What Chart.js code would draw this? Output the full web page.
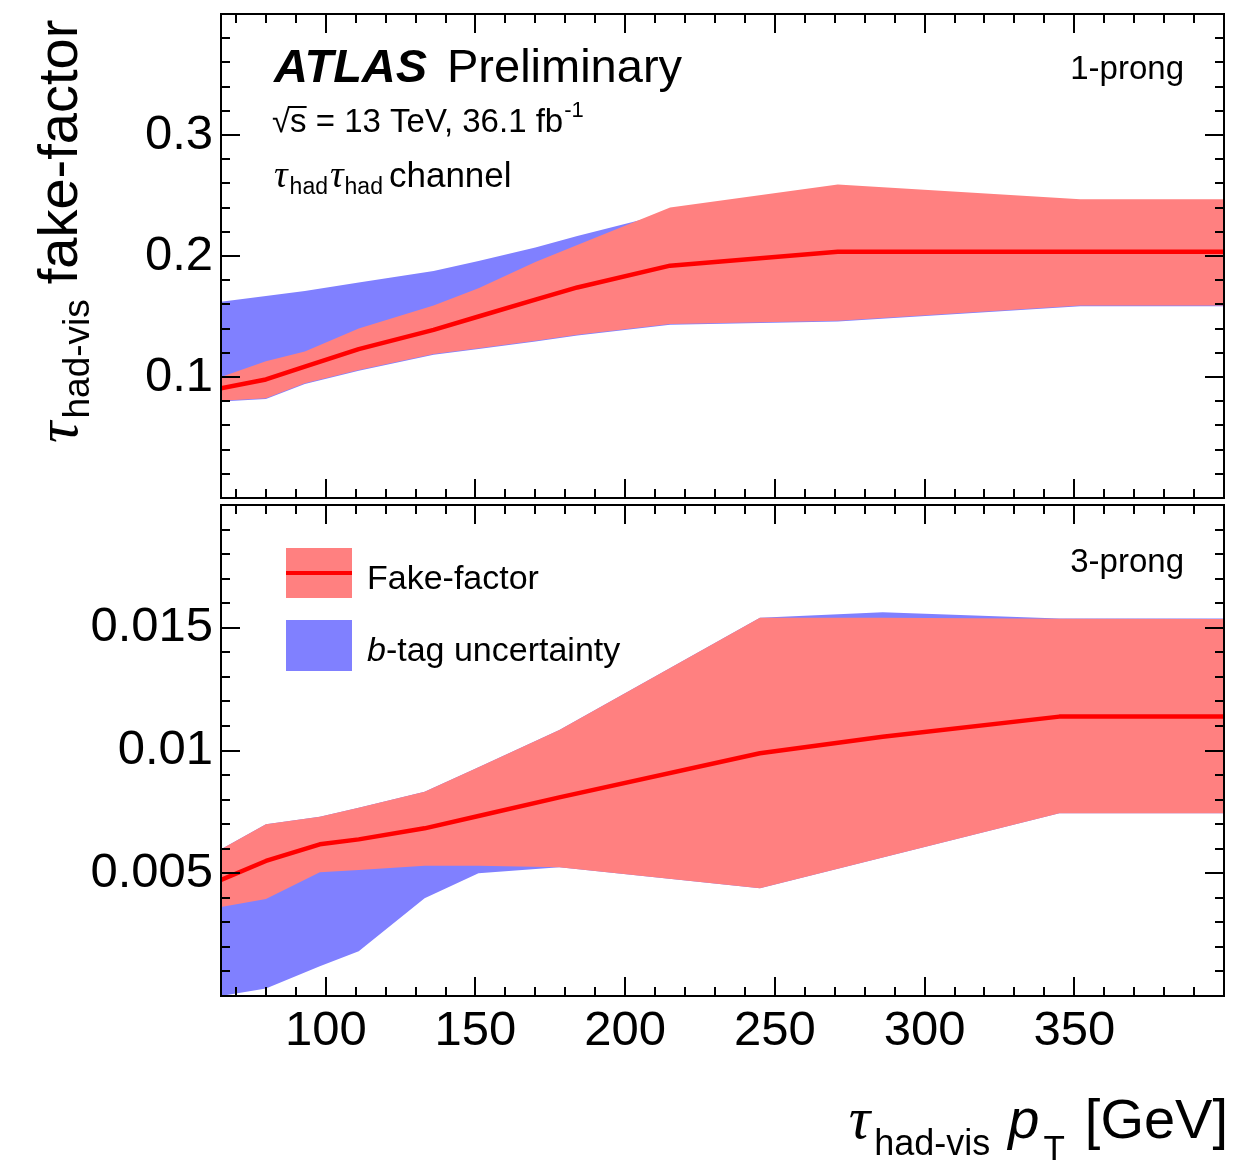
<!DOCTYPE html>
<html>
<head>
<meta charset="utf-8">
<script src="https://cdn.jsdelivr.net/npm/chart.js@4.4.1/dist/chart.umd.min.js"></script>
<style>
  body { margin: 0; background: #fff; }
  #wrap { position: relative; width: 1236px; height: 1162px; }
  canvas { position: absolute; left: 0; }
  #top { top: 0; }
  #bot { top: 500px; }
</style>
</head>
<body>
<div id="wrap">
  <canvas id="top" width="1236" height="505"></canvas>
  <canvas id="bot" width="1236" height="662"></canvas>
</div>
<script>
// 1-prong panel (top)
const topPt = [65, 80, 93, 111, 136, 151, 170, 184, 215, 271, 352, 400];
const topFakeFactor = [0.0907, 0.098, 0.1085, 0.123, 0.139, 0.150, 0.164, 0.174, 0.192, 0.2035, 0.2035, 0.2035];
const topFakeUp = [0.100, 0.113, 0.121, 0.140, 0.159, 0.1733, 0.195, 0.209, 0.240, 0.259, 0.247, 0.247];
const topFakeDown = [0.0804, 0.0824, 0.0948, 0.1058, 0.119, 0.1238, 0.130, 0.135, 0.1438, 0.1465, 0.159, 0.159];
const topBtagUp = [0.1622, 0.167, 0.171, 0.178, 0.1876, 0.1959, 0.207, 0.2165, 0.236, 0.257, 0.245, 0.245];
const topBtagDown = [0.0798, 0.0818, 0.0942, 0.1052, 0.1184, 0.1232, 0.1294, 0.1344, 0.1432, 0.1459, 0.1584, 0.1584];

// 3-prong panel (bottom)
const botPt = [65, 80, 98, 111, 133, 151, 178, 245, 286, 345, 400];
const botFakeFactor = [0.00473, 0.0055, 0.00618, 0.00638, 0.00683, 0.00733, 0.00809, 0.00989, 0.01056, 0.01138, 0.01138];
const botFakeUp = [0.00598, 0.0070, 0.0073, 0.00767, 0.00832, 0.00932, 0.01084, 0.01541, 0.01541, 0.01537, 0.01536];
const botFakeDown = [0.00363, 0.00395, 0.00504, 0.00513, 0.00531, 0.00531, 0.00524, 0.00439, 0.00564, 0.00744, 0.00744];
const botBtagUp = [0.00598, 0.0070, 0.0073, 0.00767, 0.00832, 0.00932, 0.01084, 0.01541, 0.01563, 0.01538, 0.01538];
const botBtagDown = [0.0, 0.00031, 0.00121, 0.00182, 0.00398, 0.005, 0.00524, 0.00439, 0.00564, 0.00744, 0.00744];

// axes
const xTicks = [100, 150, 200, 250, 300, 350];
const topYTicks = [0.1, 0.2, 0.3];
const topYLabels = ['0.1', '0.2', '0.3'];
const botYTicks = [0.005, 0.01, 0.015];
const botYLabels = ['0.005', '0.01', '0.015'];

const SANS = '"Liberation Sans", Arial, Helvetica, sans-serif';
const SERIF = '"Liberation Serif", "Times New Roman", serif';
const RED_BAND = '#ff8080';
const BLUE_BAND = '#8080ff';
const NONE = 'rgba(0,0,0,0)';

Chart.defaults.font.family = SANS;
Chart.defaults.color = '#000';

function bandSets(xs, line, up, down, bUp, bDown) {
  const pts = arr => xs.map((x, i) => ({ x: x, y: arr[i] }));
  // index 0 is drawn last (on top)
  return [
    { data: pts(line), borderColor: '#ff0000', borderWidth: 4.5, fill: false, clip: 0 },
    { data: pts(up), borderColor: NONE, borderWidth: 1, backgroundColor: RED_BAND, fill: 2 },
    { data: pts(down), borderColor: NONE, borderWidth: 1, fill: false },
    { data: pts(bUp), borderColor: NONE, borderWidth: 1, backgroundColor: BLUE_BAND, fill: 4 },
    { data: pts(bDown), borderColor: NONE, borderWidth: 1, fill: false }
  ];
}

// frame with inward ticks on all four sides (ROOT style)
const atlasFrame = {
  id: 'atlasFrame',
  afterDatasetsDraw(chart, args, opts) {
    const { ctx, chartArea: a } = chart;
    const x = chart.scales.x, y = chart.scales.y;
    ctx.save();
    ctx.strokeStyle = '#000';
    ctx.lineWidth = 2;
    ctx.beginPath();
    const k0 = Math.ceil(x.min / opts.xMinor - 1e-9), k1 = Math.floor(x.max / opts.xMinor + 1e-9);
    for (let k = k0; k <= k1; k++) {
      const v = k * opts.xMinor;
      if (v <= x.min || v >= x.max) continue;
      const px = Math.round(x.getPixelForValue(v));
      const len = (k % opts.xEvery === 0) ? 19 : 9;
      ctx.moveTo(px, a.bottom); ctx.lineTo(px, a.bottom - len);
      ctx.moveTo(px, a.top); ctx.lineTo(px, a.top + len);
    }
    const n = Math.round((y.max - y.min) / opts.yMinor);
    for (let k = 1; k < n; k++) {
      const py = Math.round(y.getPixelForValue(y.min + k * opts.yMinor));
      const len = (k % opts.yEvery === 0) ? 19 : 9;
      ctx.moveTo(a.left, py); ctx.lineTo(a.left + len, py);
      ctx.moveTo(a.right, py); ctx.lineTo(a.right - len, py);
    }
    ctx.stroke();
    ctx.strokeRect(a.left, a.top, a.right - a.left, a.bottom - a.top);
    ctx.restore();
  }
};

// draws a row of text pieces; each piece: t, font, dy, gap
function textRun(ctx, parts, x, y, align) {
  let w = 0;
  parts.forEach(p => { ctx.font = p.font; p.w = ctx.measureText(p.t).width; w += p.w + (p.gap || 0); });
  let cx = align === 'right' ? x - w : x;
  parts.forEach(p => {
    cx += (p.gap || 0);
    ctx.font = p.font;
    ctx.fillText(p.t, cx, y + (p.dy || 0));
    cx += p.w;
  });
}

const topText = {
  id: 'topText',
  afterDraw(chart) {
    const ctx = chart.ctx;
    ctx.save();
    ctx.fillStyle = '#000';
    ctx.textBaseline = 'alphabetic';
    ctx.textAlign = 'left';
    ctx.font = 'italic bold 47px ' + SANS;
    ctx.fillText('ATLAS', 274, 82);
    ctx.font = '47px ' + SANS;
    ctx.fillText('Preliminary', 447, 82);

    // sqrt(s) line
    ctx.font = '33px ' + SANS;
    const wRoot = ctx.measureText('\u221A').width;
    const wS = ctx.measureText('s').width;
    ctx.fillText('\u221A', 272, 132);
    ctx.fillText('s = 13 TeV, 36.1 fb', 272 + wRoot, 132);
    const wAll = ctx.measureText('s = 13 TeV, 36.1 fb').width;
    ctx.fillRect(272 + wRoot - 1, 106, wS + 1, 2);
    ctx.font = '22px ' + SANS;
    ctx.fillText('-1', 272 + wRoot + wAll + 1, 117);

    textRun(ctx, [
      { t: '\u03C4', font: 'italic 38px ' + SERIF },
      { t: 'had', font: '23px ' + SANS, dy: 7, gap: 2 },
      { t: '\u03C4', font: 'italic 38px ' + SERIF, gap: 2 },
      { t: 'had', font: '23px ' + SANS, dy: 7, gap: 1 },
      { t: 'channel', font: '35px ' + SANS, gap: 6 }
    ], 274, 187, 'left');

    ctx.font = '33px ' + SANS;
    ctx.textAlign = 'right';
    ctx.fillText('1-prong', 1184, 79);
    ctx.textAlign = 'left';

    // y axis title
    ctx.translate(77, 443);
    ctx.rotate(-Math.PI / 2);
    textRun(ctx, [
      { t: '\u03C4', font: 'italic 60px ' + SERIF },
      { t: 'had-vis', font: '37px ' + SANS, dy: 12, gap: 3 },
      { t: 'fake-factor', font: '56px ' + SANS, gap: 15 }
    ], 0, 0, 'left');
    ctx.restore();
  }
};

const botText = {
  id: 'botText',
  afterDraw(chart) {
    const ctx = chart.ctx;
    ctx.save();
    ctx.fillStyle = '#000';
    ctx.textBaseline = 'alphabetic';
    ctx.font = '33px ' + SANS;
    ctx.textAlign = 'right';
    ctx.fillText('3-prong', 1184, 72);
    ctx.textAlign = 'left';

    // legend
    ctx.fillStyle = RED_BAND;
    ctx.fillRect(286, 48, 66, 50);
    ctx.fillStyle = '#ff0000';
    ctx.fillRect(286, 71, 66, 4);
    ctx.fillStyle = BLUE_BAND;
    ctx.fillRect(286, 120, 66, 51);
    ctx.fillStyle = '#000';
    ctx.font = '34px ' + SANS;
    ctx.fillText('Fake-factor', 367, 89);
    textRun(ctx, [
      { t: 'b', font: 'italic 34px ' + SANS },
      { t: '-tag uncertainty', font: '34px ' + SANS }
    ], 367, 161, 'left');

    // x axis title
    textRun(ctx, [
      { t: '\u03C4', font: 'italic 60px ' + SERIF },
      { t: 'had-vis', font: '36px ' + SANS, dy: 17, gap: 4 },
      { t: 'p', font: 'italic 56px ' + SANS, gap: 18 },
      { t: 'T', font: '35px ' + SANS, dy: 22, gap: 4 },
      { t: '[GeV]', font: '56px ' + SANS, gap: 20 }
    ], 1228, 638, 'right');
    ctx.restore();
  }
};

// no extra room for labels that overhang the plot edges
function noOverhang(s) {
  s.paddingTop = 0; s.paddingBottom = 0; s.paddingLeft = 0; s.paddingRight = 0;
}

function panelOptions(yMin, yMax, yTicks, yLabels, showX, padding, frame) {
  return {
    responsive: false,
    animation: false,
    events: [],
    layout: { padding: padding },
    elements: {
      point: { radius: 0, hoverRadius: 0 },
      line: { tension: 0, borderCapStyle: 'butt', borderJoinStyle: 'round' }
    },
    plugins: {
      legend: { display: false },
      tooltip: { enabled: false },
      atlasFrame: frame
    },
    scales: {
      x: {
        type: 'linear',
        min: 65,
        max: 400,
        display: showX,
        grid: { display: false, drawTicks: false },
        border: { display: false },
        afterBuildTicks: s => { s.ticks = xTicks.map(v => ({ value: v })); },
        afterFit: s => { noOverhang(s); if (showX) s.height = 166; },
        ticks: {
          font: { size: 49 },
          padding: 6,
          maxRotation: 0,
          autoSkip: false,
          callback: v => String(v)
        }
      },
      y: {
        type: 'linear',
        min: yMin,
        max: yMax,
        grid: { display: false, drawTicks: false },
        border: { display: false },
        afterBuildTicks: s => { s.ticks = yTicks.map(v => ({ value: v })); },
        afterFit: s => { noOverhang(s); s.width = 221; },
        ticks: {
          font: { size: 49 },
          padding: 8,
          autoSkip: false,
          callback: (v, i) => yLabels[i]
        }
      }
    }
  };
}

new Chart(document.getElementById('top'), {
  type: 'line',
  data: { datasets: bandSets(topPt, topFakeFactor, topFakeUp, topFakeDown, topBtagUp, topBtagDown) },
  options: panelOptions(0, 0.4, topYTicks, topYLabels, false,
    { top: 14, right: 12, bottom: 7, left: 0 },
    { xMinor: 10, xEvery: 5, yMinor: 0.02, yEvery: 5 }),
  plugins: [atlasFrame, topText]
});

new Chart(document.getElementById('bot'), {
  type: 'line',
  data: { datasets: bandSets(botPt, botFakeFactor, botFakeUp, botFakeDown, botBtagUp, botBtagDown) },
  options: panelOptions(0, 0.02, botYTicks, botYLabels, true,
    { top: 5, right: 12, bottom: 0, left: 0 },
    { xMinor: 10, xEvery: 5, yMinor: 0.001, yEvery: 5 }),
  plugins: [atlasFrame, botText]
});
</script>
</body>
</html>
